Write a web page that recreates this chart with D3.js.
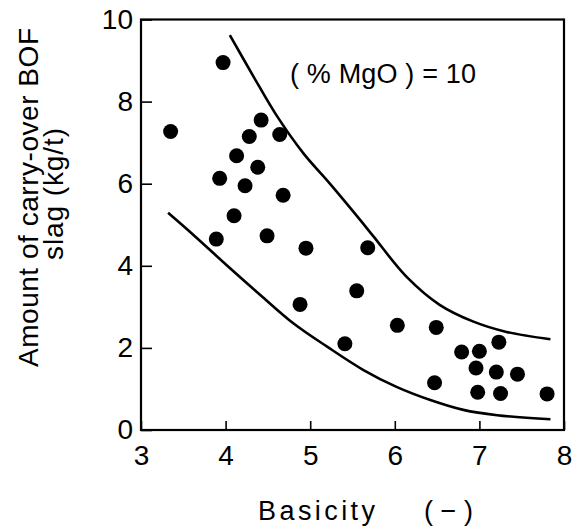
<!DOCTYPE html>
<html>
<head>
<meta charset="utf-8">
<script src="https://cdn.jsdelivr.net/npm/d3@7"></script>
<style>
  html, body { margin: 0; padding: 0; background: #fff; }
  svg { display: block; }
  text { font-family: "Liberation Sans", Arial, sans-serif; fill: #000; }
</style>
</head>
<body>
<svg id="chart" width="585" height="530"></svg>
<script>
// ---- data ----
const basicity = [3.35, 3.97, 3.93, 3.89, 4.13, 4.10, 4.23, 4.28, 4.38, 4.42, 4.49, 4.64, 4.68,
                  4.95, 4.88, 5.41, 5.55, 5.68, 6.03, 6.49, 6.47, 6.79, 7.00, 7.23, 6.96, 7.20,
                  7.45, 6.98, 7.25, 7.80];
const slag =     [7.27, 8.95, 6.13, 4.65, 6.68, 5.22, 5.95, 7.15, 6.40, 7.55, 4.73, 7.20, 5.72,
                  4.43, 3.06, 2.10, 3.39, 4.44, 2.55, 2.50, 1.15, 1.90, 1.92, 2.14, 1.51, 1.41,
                  1.36, 0.92, 0.89, 0.88];
const upperX = [4.05, 4.33, 4.60, 4.92, 5.23, 5.59, 5.75, 6.14, 6.53, 6.93, 7.32, 7.84];
const upperY = [9.62, 8.61, 7.67, 6.74, 6.01, 5.12, 4.71, 3.73, 3.05, 2.64, 2.39, 2.21];
const lowerX = [3.32, 3.62, 4.01, 4.41, 4.80, 5.20, 5.63, 6.02, 6.42, 6.81, 7.21, 7.84];
const lowerY = [5.29, 4.75, 4.02, 3.29, 2.60, 2.03, 1.46, 1.05, 0.73, 0.49, 0.36, 0.26];
const xTicks = [3, 4, 5, 6, 7, 8];
const yTicks = [0, 2, 4, 6, 8, 10];
const xLabelA = "Basicity";
const xLabelB = "(\u2212)";
const yLabel1 = "Amount of carry-over BOF";
const yLabel2 = "slag (kg/t)";
const note = "( % MgO ) = 10";

// ---- layout ----
const svg = d3.select("#chart");
const x = d3.scaleLinear().domain([3, 8]).range([141, 564]);
const y = d3.scaleLinear().domain([0, 10]).range([430, 19.5]);

// axes with inward ticks
const gx = svg.append("g").attr("transform", `translate(0,${y(0)})`)
  .call(d3.axisBottom(x).tickValues(xTicks).tickSizeInner(-9).tickSizeOuter(0).tickPadding(15).tickFormat(d3.format("d")));
const gy = svg.append("g").attr("transform", `translate(${x(3)},0)`)
  .call(d3.axisLeft(y).tickValues(yTicks).tickSizeInner(-11).tickSizeOuter(0).tickPadding(8).tickFormat(d3.format("d")));
[gx, gy].forEach(g => {
  g.select(".domain").remove();
  g.selectAll(".tick line").attr("stroke", "#000").attr("stroke-width", 1.6);
  g.selectAll(".tick text").attr("font-size", 28).attr("font-family", "Liberation Sans, Arial, sans-serif").attr("fill", "#000");
});

// frame
svg.append("rect")
  .attr("x", x(3)).attr("y", y(10))
  .attr("width", x(8) - x(3)).attr("height", y(0) - y(10))
  .attr("fill", "none").attr("stroke", "#000").attr("stroke-width", 2.2);

// curves
const line = d3.line().x(d => x(d[0])).y(d => y(d[1])).curve(d3.curveCatmullRom.alpha(0.5));
svg.append("path").datum(d3.zip(upperX, upperY))
  .attr("d", line).attr("fill", "none").attr("stroke", "#000").attr("stroke-width", 2.6);
svg.append("path").datum(d3.zip(lowerX, lowerY))
  .attr("d", line).attr("fill", "none").attr("stroke", "#000").attr("stroke-width", 2.6);

// points
svg.append("g").selectAll("circle").data(d3.zip(basicity, slag)).join("circle")
  .attr("cx", d => x(d[0])).attr("cy", d => y(d[1])).attr("r", 7.5).attr("fill", "#000");

// annotation
svg.append("text").attr("x", 290).attr("y", 83).attr("font-size", 27)
  .attr("textLength", 186).attr("lengthAdjust", "spacing").text(note);

// axis titles
svg.append("text").attr("x", 258).attr("y", 520).attr("font-size", 27)
  .attr("textLength", 117).attr("lengthAdjust", "spacing").text(xLabelA);
svg.append("text").attr("x", 424).attr("y", 520).attr("font-size", 27)
  .attr("textLength", 49).attr("lengthAdjust", "spacing").text(xLabelB);
svg.append("text").attr("transform", "translate(38,367) rotate(-90)").attr("font-size", 28)
  .attr("textLength", 339).attr("lengthAdjust", "spacing").text(yLabel1);
svg.append("text").attr("transform", "translate(63,260) rotate(-90)").attr("font-size", 28)
  .attr("textLength", 132).attr("lengthAdjust", "spacing").text(yLabel2);
</script>
</body>
</html>
